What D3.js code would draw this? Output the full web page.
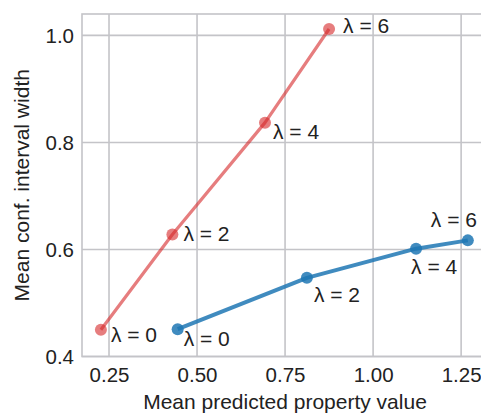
<!DOCTYPE html>
<html>
<head>
<meta charset="utf-8">
<script src="https://cdn.jsdelivr.net/npm/d3@7/dist/d3.min.js"></script>
<style>
  html, body { margin: 0; padding: 0; background: #fff; }
  svg { display: block; overflow: hidden; }
  text { font-family: "Liberation Sans", Arial, Helvetica, sans-serif; fill: #222; }
</style>
</head>
<body>
<svg id="chart" width="481" height="415"></svg>
<script>
// Mean predicted property value vs. mean confidence-interval width for each lambda
const lambdas = [0, 2, 4, 6];
const redX = [0.227, 0.430, 0.693, 0.875];
const redY = [0.450, 0.628, 0.837, 1.012];
const blueX = [0.445, 0.812, 1.122, 1.269];
const blueY = [0.451, 0.547, 0.6015, 0.617];
const xTicks = [0.25, 0.50, 0.75, 1.00, 1.25];
const yTicks = [0.4, 0.6, 0.8, 1.0];
const xTitle = "Mean predicted property value";
const yTitle = "Mean conf. interval width";

// Label placement relative to each marker (dx, dy in px)
const redLabelOffsets = [[10, 12], [11, 7], [8, 16], [14, 4]];
const blueLabelOffsets = [[6, 17], [7, 24], [-5, 25], [-37, -13]];

const svg = d3.select("#chart");
const plot = { left: 82, top: 14, right: 490, bottom: 356.5 };

const x = d3.scaleLinear().domain([0.1733, 1.332]).range([plot.left, plot.right]);
const y = d3.scaleLinear().domain([0.4, 1.04]).range([plot.bottom, plot.top]);

const gridColor = "#c4c4c8";
const tickFont = 20.5;
const titleFont = 21;
const labelFont = 21;

// Grid lines
const grid = svg.append("g");
grid.selectAll("line.gx").data(xTicks).join("line")
  .attr("x1", d => x(d)).attr("x2", d => x(d))
  .attr("y1", plot.top).attr("y2", plot.bottom)
  .attr("stroke", gridColor).attr("stroke-width", 1.6);
grid.selectAll("line.gy").data(yTicks).join("line")
  .attr("x1", plot.left).attr("x2", plot.right)
  .attr("y1", d => y(d)).attr("y2", d => y(d))
  .attr("stroke", gridColor).attr("stroke-width", 1.6);

// Frame
svg.append("rect")
  .attr("x", plot.left).attr("y", plot.top)
  .attr("width", plot.right - plot.left).attr("height", plot.bottom - plot.top)
  .attr("fill", "none").attr("stroke", gridColor).attr("stroke-width", 1.6);

// Axes (labels only, no tick marks)
const xAxis = svg.append("g")
  .attr("transform", `translate(0,${plot.bottom})`)
  .call(d3.axisBottom(x).tickValues(xTicks).tickFormat(d3.format(".2f")).tickSize(0).tickPadding(10));
const yAxis = svg.append("g")
  .attr("transform", `translate(${plot.left},0)`)
  .call(d3.axisLeft(y).tickValues(yTicks).tickFormat(d3.format(".1f")).tickSize(0).tickPadding(8));
[xAxis, yAxis].forEach(a => {
  a.select(".domain").remove();
  a.selectAll("text")
    .style("font-family", '"Liberation Sans", Arial, sans-serif')
    .style("font-size", tickFont + "px")
    .attr("fill", "#222");
});
xAxis.selectAll("text").attr("dy", null).attr("y", 25);
yAxis.selectAll("text").attr("dy", "0.35em");

// Axis titles
svg.append("text")
  .attr("x", (plot.left + plot.right) / 2 - 1).attr("y", 409)
  .attr("text-anchor", "middle")
  .style("font-size", titleFont + "px")
  .text(xTitle);
svg.append("text")
  .attr("transform", `translate(29,${(plot.top + plot.bottom) / 2}) rotate(-90)`)
  .attr("text-anchor", "middle")
  .style("font-size", titleFont + "px")
  .text(yTitle);

// Series
const series = [
  { xs: redX, ys: redY, color: "rgba(214,39,40,0.6)", width: 3.2, offsets: redLabelOffsets },
  { xs: blueX, ys: blueY, color: "rgba(31,119,180,0.85)", width: 4, offsets: blueLabelOffsets }
];

const line = d3.line().x(d => x(d[0])).y(d => y(d[1]));

series.forEach(s => {
  const pts = s.xs.map((v, i) => [v, s.ys[i]]);
  svg.append("path")
    .datum(pts)
    .attr("d", line)
    .attr("fill", "none")
    .attr("stroke", s.color)
    .attr("stroke-width", s.width)
    .attr("stroke-linejoin", "round");
  svg.append("g").selectAll("circle").data(pts).join("circle")
    .attr("cx", d => x(d[0])).attr("cy", d => y(d[1]))
    .attr("r", 6)
    .attr("fill", s.color);
  svg.append("g").selectAll("text").data(pts).join("text")
    .attr("x", (d, i) => x(d[0]) + s.offsets[i][0])
    .attr("y", (d, i) => y(d[1]) + s.offsets[i][1])
    .style("font-size", labelFont + "px")
    .text((d, i) => `λ = ${lambdas[i]}`);
});
</script>
</body>
</html>
